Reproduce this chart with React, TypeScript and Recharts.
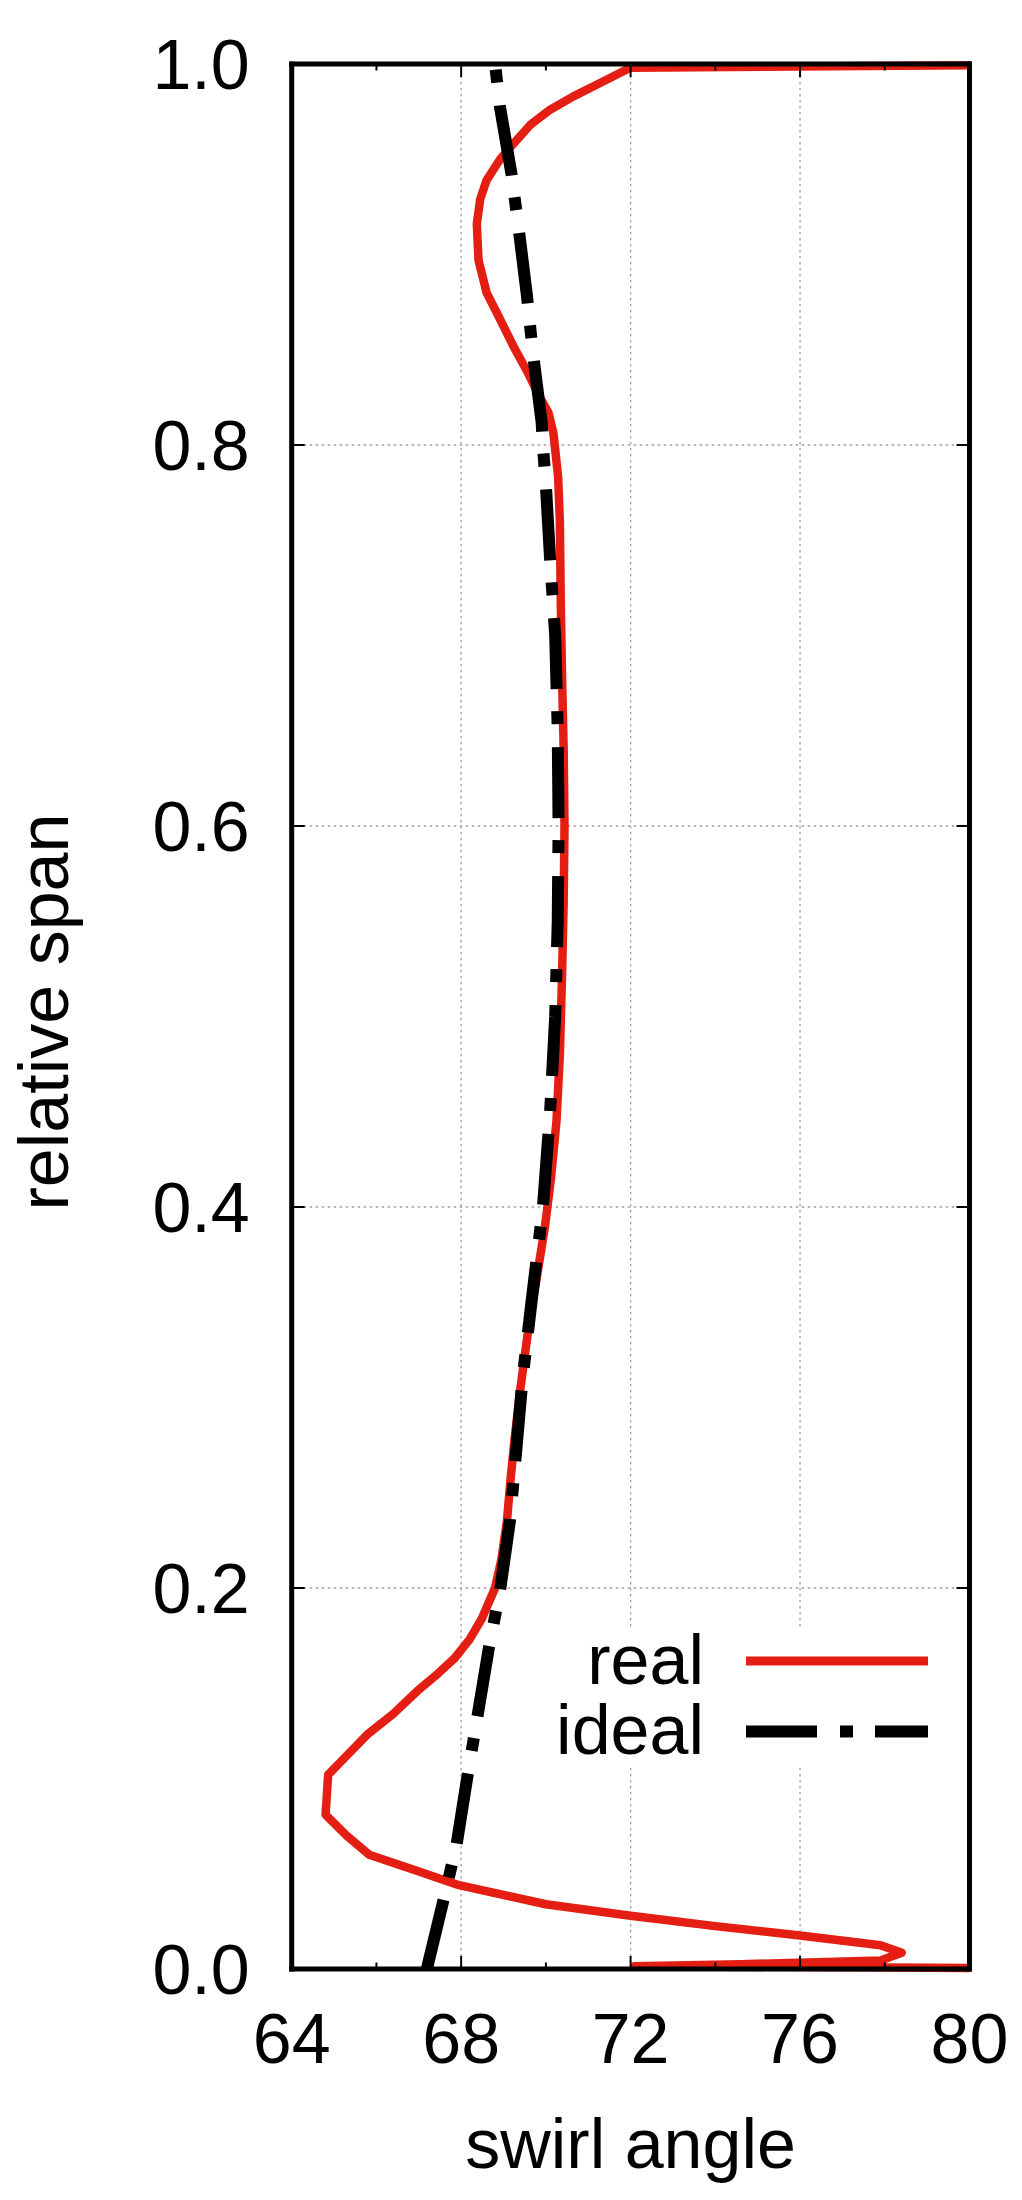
import React from "react";
import { LineChart, Line, XAxis, YAxis, CartesianGrid, Customized } from "recharts";

// page / plot frame in px
const W = 1022;
const H = 2200;
const PLOT_L = 291.7;
const PLOT_R = 969.5;
const PLOT_T = 64;
const PLOT_B = 1969;

const FONT = "'Liberation Sans', Arial, Helvetica, sans-serif";
const RED = "#e41e12";

// axes
const xTicks = [64, 66, 68, 70, 72, 74, 76, 78, 80];
const xMajor = [64, 68, 72, 76, 80];
const yTicks = [0, 0.2, 0.4, 0.6, 0.8, 1.0];
const gridX = [68, 72, 76];
const gridY = [0.2, 0.4, 0.6, 0.8];

// "real" curve, hub to shroud (angle beyond 80 at the walls)
const realSpan = [
  0.0, 0.0015, 0.0025, 0.0045, 0.0085, 0.0125, 0.0176, 0.0225, 0.028, 0.034,
  0.044, 0.052, 0.06, 0.07, 0.081, 0.102, 0.112, 0.123, 0.134, 0.146,
  0.155, 0.163, 0.173, 0.184, 0.2, 0.215, 0.235, 0.258, 0.28, 0.305,
  0.335, 0.365, 0.39, 0.415, 0.445, 0.48, 0.52, 0.56, 0.6, 0.64,
  0.68, 0.72, 0.76, 0.783, 0.806, 0.817, 0.825, 0.839, 0.852, 0.866,
  0.88, 0.897, 0.916, 0.929, 0.939, 0.95, 0.958, 0.968, 0.976, 0.983,
  0.99, 0.998, 1.0,
];
const realAngle = [
  84, 72.1, 74.6, 77.9, 78.4, 77.9, 76.0, 74.0, 72.0, 70.0,
  67.95, 66.9, 65.83, 65.3, 64.8, 64.86, 65.3, 65.78, 66.4, 66.97,
  67.45, 67.84, 68.2, 68.49, 68.8, 68.95, 69.08, 69.17, 69.27, 69.4,
  69.58, 69.8, 69.98, 70.12, 70.25, 70.33, 70.38, 70.42, 70.44, 70.42,
  70.38, 70.35, 70.33, 70.29, 70.18, 70.06, 69.86, 69.55, 69.23, 68.92,
  68.6, 68.41, 68.37, 68.45, 68.6, 68.92, 69.23, 69.63, 70.1, 70.65,
  71.28, 71.99, 84,
];

// "ideal" curve
const idealSpan = [
  0.0, 0.035, 0.065, 0.1, 0.132, 0.168, 0.199, 0.235, 0.272, 0.31,
  0.35, 0.4, 0.45, 0.5, 0.55, 0.6, 0.65, 0.7, 0.74, 0.775,
  0.8, 0.812, 0.847, 0.879, 0.915, 0.942, 0.977, 1.0,
];
const idealAngle = [
  67.19, 67.57, 67.89, 68.14, 68.38, 68.65, 68.92, 69.15, 69.3, 69.45,
  69.66, 69.93, 70.1, 70.22, 70.28, 70.3, 70.28, 70.22, 70.1, 70.01,
  69.93, 69.9, 69.7, 69.55, 69.35, 69.19, 68.92, 68.8,
];

const realData = realSpan.map((span, i) => ({ span, angle: realAngle[i] }));
const idealData = idealSpan.map((span, i) => ({ span, angle: idealAngle[i] }));

// bottom ticks also draw the mirrored ticks on the top border
const BottomTick = (props: any) => {
  const { x, y, payload } = props;
  const v = payload.value as number;
  const major = xMajor.includes(v);
  const len = major ? 13 : 6.5;
  return (
    <g>
      <line x1={x} x2={x} y1={y} y2={y - len} stroke="#000" strokeWidth={2} />
      <line x1={x} x2={x} y1={PLOT_T} y2={PLOT_T + len} stroke="#000" strokeWidth={2} />
      {major && (
        <text x={x} y={y + 94} textAnchor="middle" fontSize={70} fontFamily={FONT} fill="#000">
          {v}
        </text>
      )}
    </g>
  );
};

// left ticks also draw the mirrored ticks on the right border
const LeftTick = (props: any) => {
  const { x, y, payload } = props;
  const v = payload.value as number;
  return (
    <g>
      <line x1={x} x2={x + 13} y1={y} y2={y} stroke="#000" strokeWidth={2} />
      <line x1={PLOT_R} x2={PLOT_R - 13} y1={y} y2={y} stroke="#000" strokeWidth={2} />
      <text x={x - 42} y={y + 25} textAnchor="end" fontSize={70} fontFamily={FONT} fill="#000">
        {v.toFixed(1)}
      </text>
    </g>
  );
};

const Overlay = () => (
  <g fontFamily={FONT} fontSize={70} fill="#000">
    {/* key box */}
    <rect x={548} y={1627} width={395} height={140} fill="#fff" />
    <text x={704} y={1684} textAnchor="end">real</text>
    <line x1={746} x2={928} y1={1661} y2={1661} stroke={RED} strokeWidth={9} />
    <text x={704} y={1754} textAnchor="end">ideal</text>
    <line
      x1={746}
      x2={928}
      y1={1731.5}
      y2={1731.5}
      stroke="#000"
      strokeWidth={12}
      strokeDasharray="71 23 13 22"
    />
    {/* axis titles */}
    <text x={(PLOT_L + PLOT_R) / 2} y={2168} textAnchor="middle">swirl angle</text>
    <text transform="rotate(-90)" x={-1012} y={68} textAnchor="middle">relative span</text>
  </g>
);

const border = { stroke: "#000", strokeWidth: 5, strokeLinecap: "square" as const };

export default function App() {
  return (
    <div style={{ width: W, height: H, background: "#fff" }}>
      <style>{"body{margin:0;background:#fff}"}</style>
      <LineChart
        width={W}
        height={H}
        layout="vertical"
        margin={{ top: 0, right: 0, bottom: 0, left: 0 }}
      >
        <CartesianGrid
          xAxisId="b"
          yAxisId="l"
          verticalValues={gridX}
          horizontalValues={gridY}
          stroke="#a0a0a0"
          strokeWidth={1.3}
          strokeDasharray="2.5 3.5"
        />
        <XAxis
          xAxisId="b"
          type="number"
          orientation="bottom"
          domain={[64, 80]}
          allowDataOverflow
          ticks={xTicks}
          interval={0}
          height={H - PLOT_B}
          tickSize={0}
          tickMargin={0}
          tickLine={false}
          axisLine={border}
          tick={<BottomTick />}
        />
        <XAxis
          xAxisId="t"
          type="number"
          orientation="top"
          domain={[64, 80]}
          allowDataOverflow
          ticks={xMajor}
          interval={0}
          height={PLOT_T}
          tickLine={false}
          tick={false}
          axisLine={border}
        />
        <YAxis
          yAxisId="l"
          type="number"
          dataKey="span"
          orientation="left"
          domain={[0, 1]}
          reversed
          ticks={yTicks}
          interval={0}
          width={PLOT_L}
          tickSize={0}
          tickMargin={0}
          tickLine={false}
          axisLine={border}
          tick={<LeftTick />}
        />
        <YAxis
          yAxisId="r"
          type="number"
          orientation="right"
          domain={[0, 1]}
          reversed
          allowDataOverflow
          ticks={yTicks}
          interval={0}
          width={W - PLOT_R}
          tickLine={false}
          tick={false}
          axisLine={border}
        />
        <Line
          data={realData}
          xAxisId="b"
          yAxisId="l"
          dataKey="angle"
          type="linear"
          stroke={RED}
          strokeWidth={8.5}
          strokeLinejoin="round"
          dot={false}
          activeDot={false}
          isAnimationActive={false}
        />
        <Line
          data={idealData}
          xAxisId="b"
          yAxisId="l"
          dataKey="angle"
          type="linear"
          stroke="#000"
          strokeWidth={12}
          strokeDasharray="71 23 13 22"
          dot={false}
          activeDot={false}
          isAnimationActive={false}
        />
        <Customized component={Overlay} />
      </LineChart>
    </div>
  );
}
